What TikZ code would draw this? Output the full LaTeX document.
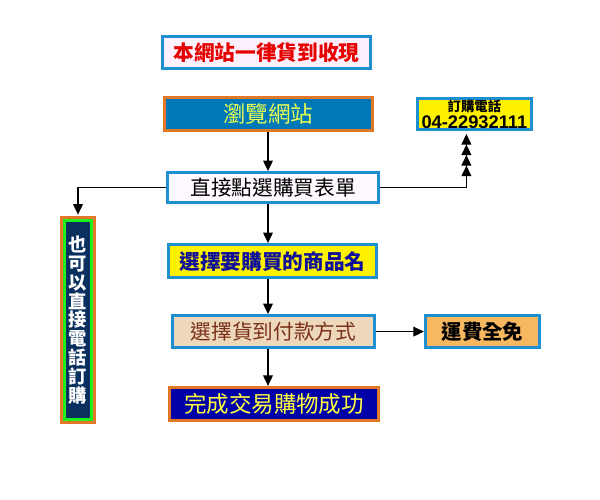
\documentclass[tikz,border=0pt]{standalone}
\usepackage{fontspec}
\setmainfont{Noto Sans CJK TC}
\newfontfamily\digits{Liberation Sans}
\usetikzlibrary{arrows.meta}
\definecolor{bordblue}{RGB}{30,144,210}
\definecolor{bordorange}{RGB}{224,120,40}
\definecolor{pinkfill}{RGB}{252,240,252}
\definecolor{redtext}{RGB}{230,0,0}
\definecolor{sitefill}{RGB}{0,120,184}
\definecolor{limetext}{RGB}{232,255,80}
\definecolor{tanfill}{RGB}{238,216,188}
\definecolor{browntext}{RGB}{122,48,24}
\definecolor{navytext}{RGB}{16,16,154}
\definecolor{deepblue}{RGB}{0,0,168}
\definecolor{goldtext}{RGB}{255,255,64}
\definecolor{orangefill}{RGB}{248,184,96}
\definecolor{navyfill}{RGB}{10,48,96}
\definecolor{greenline}{RGB}{32,240,32}

\begin{document}
\begin{tikzpicture}[
  box/.style={draw=bordblue, line width=2.2pt, inner sep=0pt,
    minimum width=5.2cm, minimum height=0.8cm,
    font=\fontsize{14.7pt}{16pt}\selectfont},
  obox/.style={box, draw=bordorange},
  tip/.style={line width=0.8pt, -{Triangle[width=7pt,length=7.5pt]}},
  quadtip/.style={line width=0.8pt, -{Triangle[width=7pt,length=7.5pt]
    Triangle[width=7pt,length=7.5pt] Triangle[width=7pt,length=7.5pt]
    Triangle[width=7pt,length=7.5pt]}}]
\useasboundingbox (0,0) rectangle (15,-12.5);
\coordinate (axis) at (6.7,0);
\node[box, fill=pinkfill, text=redtext, font=\fontsize{14.7pt}{16pt}\selectfont\bfseries]
  (A) at (6.66,-1.31) {本網站一律貨到收現};
\node[obox, fill=sitefill, text=limetext, minimum height=0.83cm,
  font=\fontsize{16pt}{17pt}\selectfont] (B) at (6.71,-2.85) {瀏覽網站};
\node[box, fill=yellow, minimum width=2.85cm, minimum height=0.78cm,
  align=center, font=\fontsize{9.5pt}{12pt}\selectfont] (C) at (11.86,-2.85)
  {{\bfseries 訂購電話}\\{\digits\bfseries\fontsize{13pt}{13pt}\selectfont 04-22932111}};
\node[box, fill=pinkfill!40, minimum width=5.27cm, minimum height=0.75cm] (D) at (6.83,-4.69) {直接點選購買表單};
\node[box, fill=yellow, text=navytext, minimum height=0.83cm,
  font=\fontsize{14.7pt}{16pt}\selectfont\bfseries] (E) at (6.81,-6.53) {選擇要購買的商品名};
\node[box, fill=tanfill, text=browntext, minimum width=5.05cm] (F) at (6.84,-8.29) {選擇貨到付款方式};
\node[obox, fill=deepblue, text=goldtext, minimum width=5.22cm, minimum height=0.83cm,
  font=\fontsize{16pt}{17pt}\selectfont] (G) at (6.85,-10.1) {完成交易購物成功};
\node[box, fill=orangefill, minimum width=2.85cm, font=\fontsize{14.5pt}{16pt}\selectfont\bfseries]
  (H) at (12.06,-8.29) {運費全免};
\node[fill=navyfill, draw=greenline, line width=2pt, preaction={draw=bordorange, line width=6pt},
  text=white, inner sep=0pt, minimum width=0.69cm, minimum height=4.99cm, align=center,
  font=\fontsize{13pt}{13.4pt}\selectfont\bfseries] (I) at (1.95,-8.0)
  {也\\可\\以\\直\\接\\電\\話\\訂\\購};
\draw[tip] (B.south -| axis) -- (D.north -| axis);
\draw[tip] (D.south -| axis) -- (E.north -| axis);
\draw[tip] (E.south -| axis) -- (F.north -| axis);
\draw[tip] (F.south -| axis) -- (G.north -| axis);
\draw[tip] (F.east) -- (H.west);
\draw[tip, shorten >=3pt] (D.west) -| (I.north);
\draw[quadtip, shorten >=2pt] (D.east) -| ([xshift=-0.2cm]C.south);
\end{tikzpicture}
\end{document}
